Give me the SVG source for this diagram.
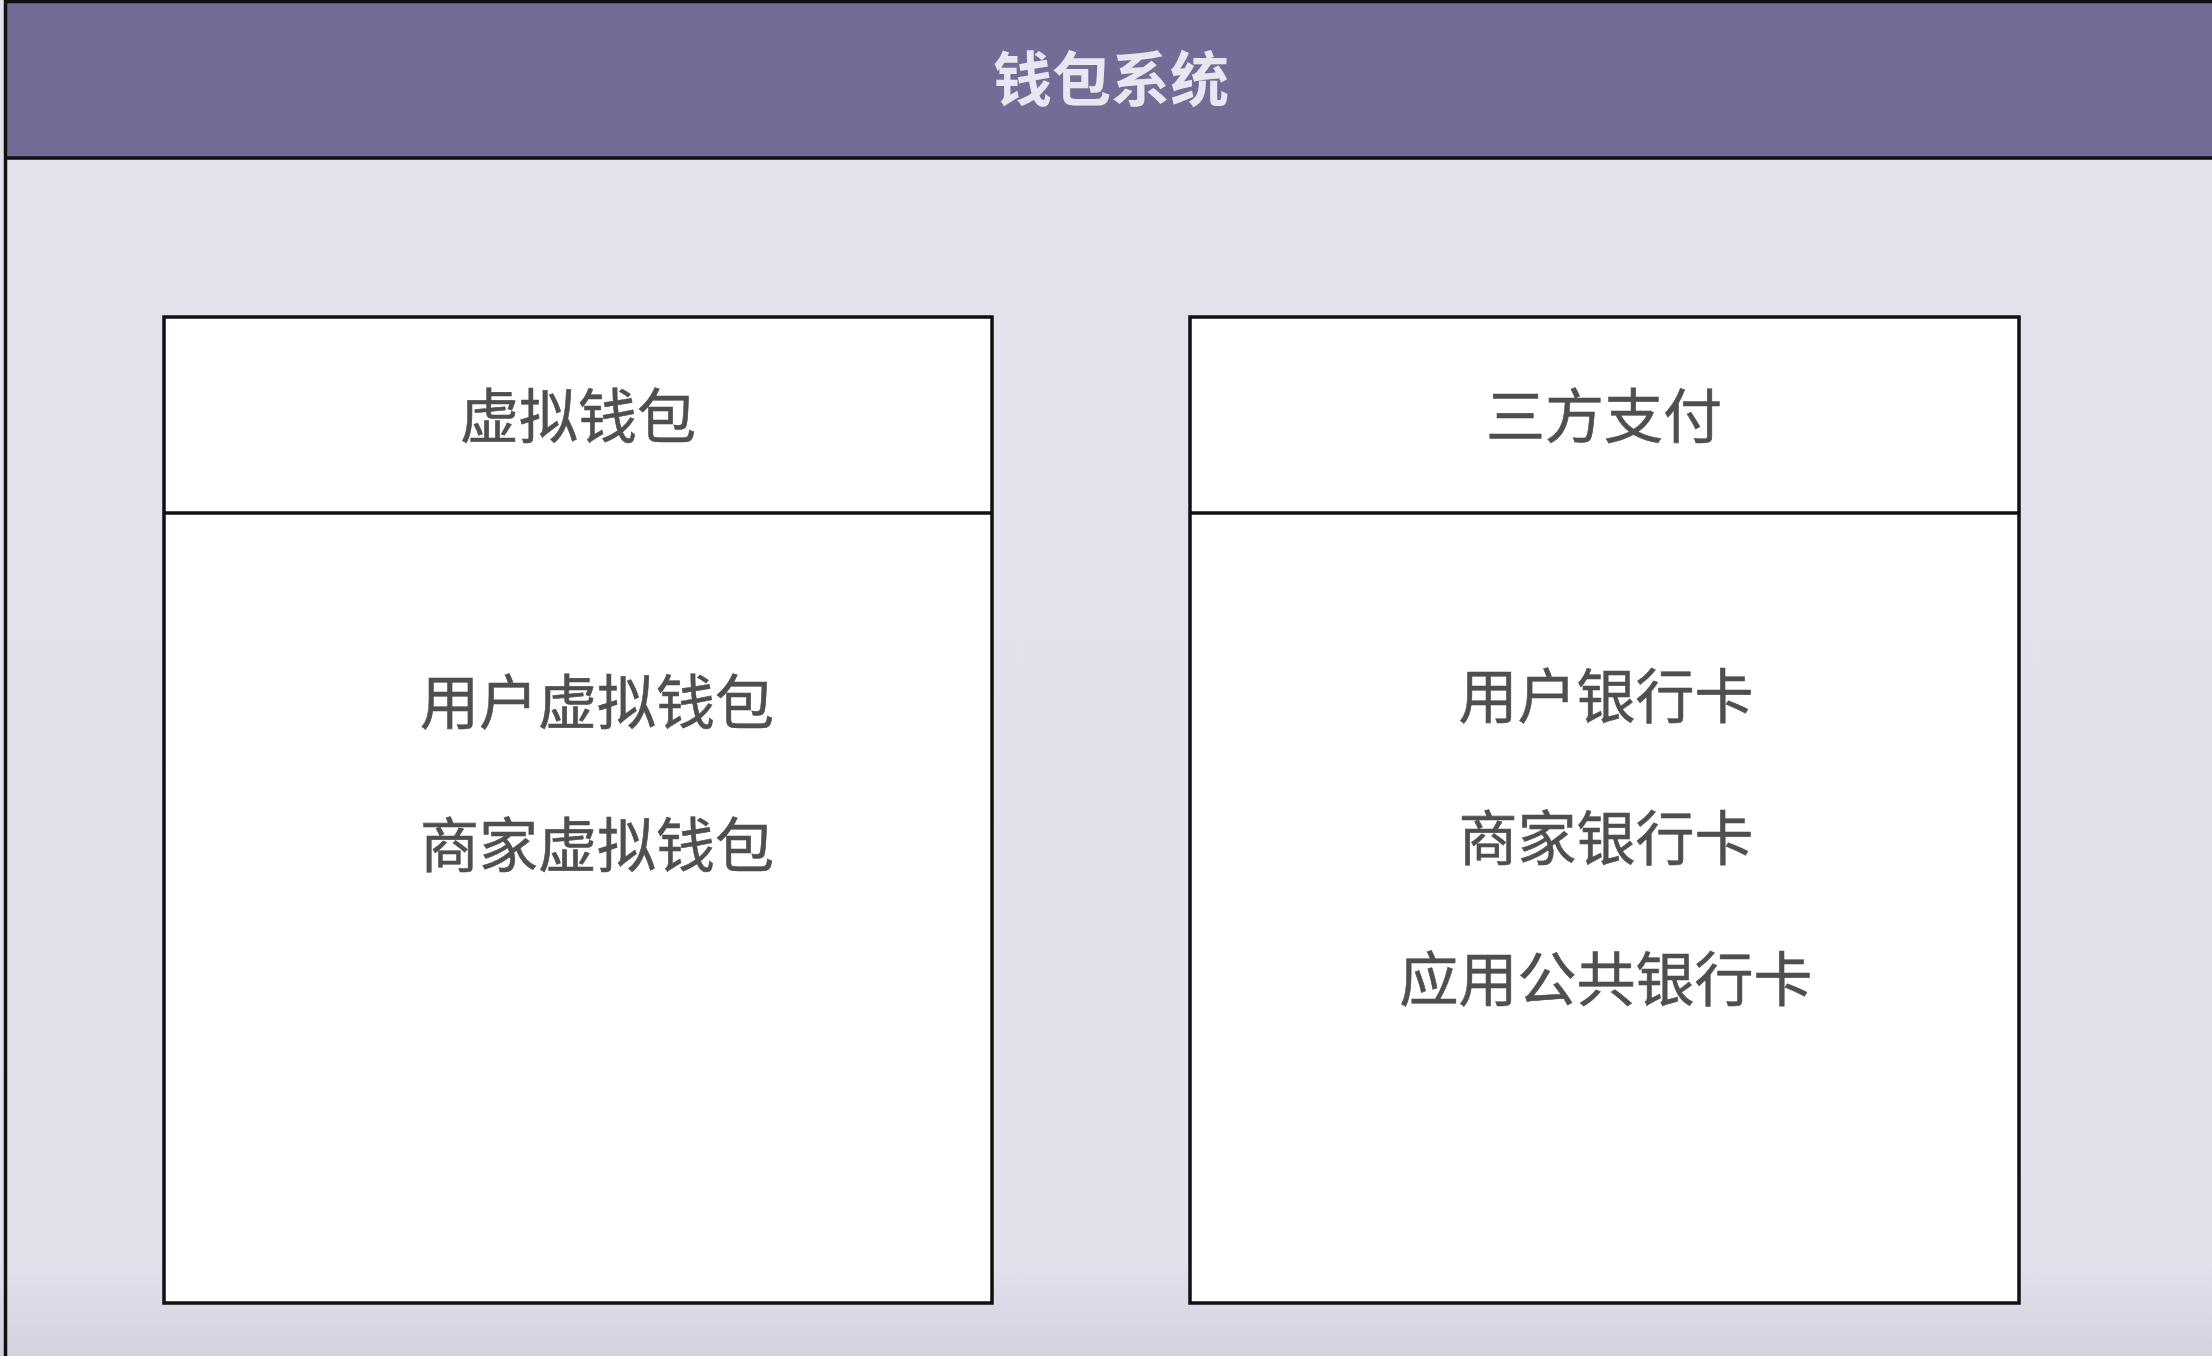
<svg xmlns="http://www.w3.org/2000/svg" width="2212" height="1356" viewBox="0 0 2212 1356">
  <defs>
    <linearGradient id="bodyGrad" x1="0" y1="0" x2="0" y2="1">
      <stop offset="0" stop-color="#e3e1ec"/>
      <stop offset="0.93" stop-color="#e2e0eb"/>
      <stop offset="1" stop-color="#d4d2de"/>
    </linearGradient>
    <style>
      .box { fill: #ffffff; stroke: #111111; stroke-width: 3.5; }
      .line { stroke: #111111; stroke-width: 3.5; fill: none; }
      .cap { font-family: "Noto Sans CJK SC", "Noto Sans", sans-serif; font-size: 59px; fill: #4f4f4f; text-anchor: middle; stroke: #4f4f4f; stroke-width: 0.6; }
      .title { font-family: "Noto Sans CJK SC", "Noto Sans", sans-serif; font-size: 59px; font-weight: bold; fill: #e8e6f0; text-anchor: middle; }
    </style>
  </defs>
  <g id="container">
    <rect x="0" y="0" width="2212" height="1356" fill="url(#bodyGrad)"/>
    <rect x="5.5" y="1.5" width="2210" height="157" fill="#736c97"/>
    <line class="line" x1="5.5" y1="1.5" x2="2212" y2="1.5"/>
    <line class="line" x1="5.5" y1="158" x2="2212" y2="158"/>
    <line class="line" x1="5.5" y1="0" x2="5.5" y2="1356"/>
    <text class="title" x="1111" y="101">钱包系统</text>
  </g>
  <g id="virtual-wallet">
    <rect class="box" x="164" y="317" width="828" height="986"/>
    <line class="line" x1="164" y1="513" x2="992" y2="513"/>
    <text class="cap" x="578" y="438">虚拟钱包</text>
    <text class="cap" x="597" y="724">用户虚拟钱包</text>
    <text class="cap" x="597" y="867">商家虚拟钱包</text>
  </g>
  <g id="third-party-pay">
    <rect class="box" x="1190" y="317" width="829" height="986"/>
    <line class="line" x1="1190" y1="513" x2="2019" y2="513"/>
    <text class="cap" x="1604" y="438">三方支付</text>
    <text class="cap" x="1606" y="718">用户银行卡</text>
    <text class="cap" x="1606" y="860">商家银行卡</text>
    <text class="cap" x="1606" y="1001">应用公共银行卡</text>
  </g>
  <g id="connectors"/>
</svg>
